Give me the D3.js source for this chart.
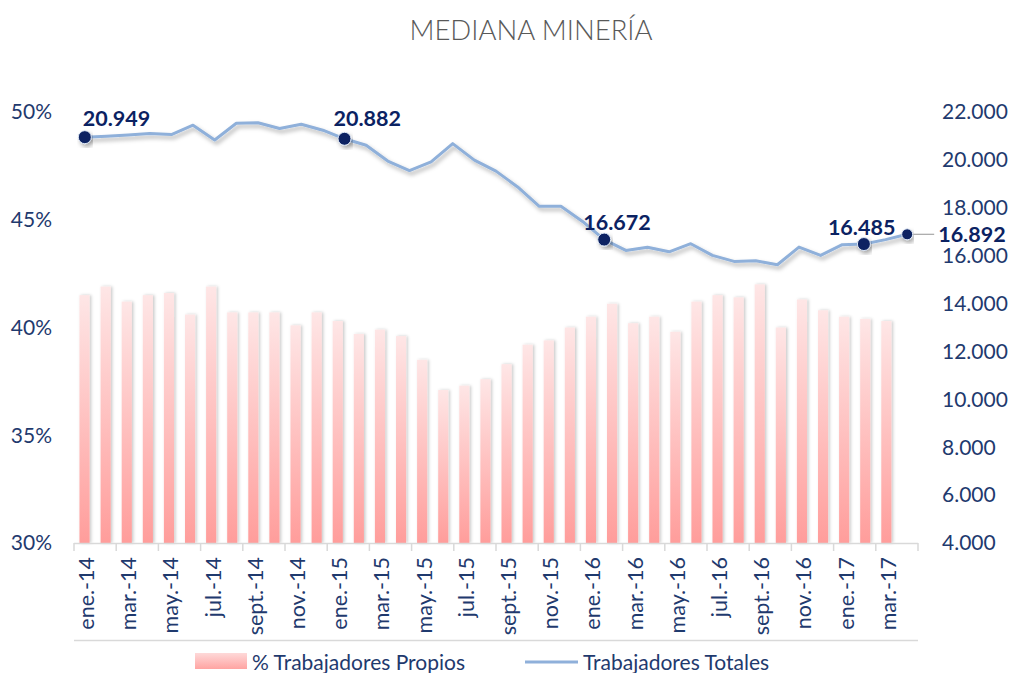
<!DOCTYPE html>
<html>
<head>
<meta charset="utf-8">
<script src="https://cdn.jsdelivr.net/npm/d3@7"></script>
<style>
  body { margin: 0; background: #fff; }
  svg { display: block; font-family: Lato, "Open Sans", sans-serif; }
</style>
</head>
<body>
<div id="chart"></div>
<script>
/*
** Data
*/
var months = [
    "ene.-14","feb.-14","mar.-14","abr.-14","may.-14","jun.-14","jul.-14","ago.-14","sept.-14","oct.-14","nov.-14","dic.-14",
    "ene.-15","feb.-15","mar.-15","abr.-15","may.-15","jun.-15","jul.-15","ago.-15","sept.-15","oct.-15","nov.-15","dic.-15",
    "ene.-16","feb.-16","mar.-16","abr.-16","may.-16","jun.-16","jul.-16","ago.-16","sept.-16","oct.-16","nov.-16","dic.-16",
    "ene.-17","feb.-17","mar.-17","abr.-17"
];

// % Trabajadores Propios (bars, left axis)
var propios = [
    41.5, 41.9, 41.2, 41.5, 41.6, 40.6, 41.9, 40.7, 40.7, 40.7, 40.1, 40.7,
    40.3, 39.7, 39.9, 39.6, 38.5, 37.1, 37.3, 37.6, 38.3, 39.2, 39.4, 40.0,
    40.5, 41.1, 40.2, 40.5, 39.8, 41.2, 41.5, 41.4, 42.0, 40.0, 41.3, 40.8,
    40.5, 40.4, 40.3
];

// Trabajadores Totales (line, right axis)
var totales = [
    20949, 20990, 21040, 21100, 21060, 21450, 20830, 21530, 21550, 21310, 21490, 21240,
    20882, 20610, 19950, 19550, 19920, 20680, 19990, 19530, 18870, 18060, 18060, 17430,
    16672, 16220, 16350, 16160, 16500, 16010, 15760, 15790, 15620, 16360, 16010, 16460,
    16485, 16670, 16892
];

var leftTicks = [30, 35, 40, 45, 50];
var rightTicks = [4000, 6000, 8000, 10000, 12000, 14000, 16000, 18000, 20000, 22000];
var labeledPoints = [0, 12, 24, 36, 38];

var seriesNames = ["% Trabajadores Propios", "Trabajadores Totales"];
var title = "MEDIANA MINERÍA";

/*
** Layout
*/
var width = 1010
  , height = 673
  , plotLeft = 74
  , plotRight = 918
  , plotTop = 112
  , plotBottom = 543
  , navy = "#1f3a6e"
  , dotColor = "#0b2262"
  , lineColor = "#8fb0da"
;

// label offsets (dx, dy) relative to each labelled dot
var labelOffsets = [[-2, -11], [-11, -13], [-21, -10], [-36, -9], [31, 8]];

var locale = d3.formatLocale({ decimal: ",", thousands: ".", grouping: [3], currency: ["$", ""] });
var fmtThousands = locale.format(",.0f");

var svg = d3.select("#chart").append("svg")
    .attr("width", width)
    .attr("height", height)
;

var defs = svg.append("defs");

var barGrad = defs.append("linearGradient")
    .attr("id", "barGrad")
    .attr("x1", 0).attr("y1", 0).attr("x2", 0).attr("y2", 1)
;
barGrad.append("stop").attr("offset", "0%").attr("stop-color", "#fee6e6");
barGrad.append("stop").attr("offset", "100%").attr("stop-color", "#ff9d9b");

var legGrad = defs.append("linearGradient")
    .attr("id", "legGrad")
    .attr("x1", 0).attr("y1", 0).attr("x2", 0).attr("y2", 1)
;
legGrad.append("stop").attr("offset", "0%").attr("stop-color", "#fed9d9");
legGrad.append("stop").attr("offset", "100%").attr("stop-color", "#ffa4a2");

var barShadow = defs.append("filter").attr("id", "barShadow")
    .attr("x", "-50%").attr("y", "-5%").attr("width", "200%").attr("height", "110%");
barShadow.append("feDropShadow")
    .attr("dx", 1.5).attr("dy", 0).attr("stdDeviation", 1.4)
    .attr("flood-color", "#000").attr("flood-opacity", 0.22);

var lineShadow = defs.append("filter").attr("id", "lineShadow")
    .attr("x", "-10%").attr("y", "-30%").attr("width", "120%").attr("height", "160%");
lineShadow.append("feDropShadow")
    .attr("dx", 2).attr("dy", 3).attr("stdDeviation", 2)
    .attr("flood-color", "#000").attr("flood-opacity", 0.3);

/*
** Scales
*/
var xBar = d3.scaleBand()
    .domain(months)
    .range([plotLeft, plotRight])
    .paddingInner(0.52)
    .paddingOuter(0.26)
;
var xLine = d3.scalePoint()
    .domain(d3.range(totales.length))
    .range([plotLeft, plotRight])
    .padding(0.5)
;
var yLeft = d3.scaleLinear().domain([30, 50]).range([plotBottom, plotTop]);
var yRight = d3.scaleLinear().domain([4000, 22000]).range([plotBottom, plotTop]);

/*
** Title
*/
svg.append("text")
    .attr("x", 531)
    .attr("y", 40)
    .attr("text-anchor", "middle")
    .attr("fill", "#595959")
    .style("font-size", "27.5px")
    .style("font-weight", 300)
    .text(title)
;

/*
** Bars
*/
svg.append("g")
    .attr("filter", "url(#barShadow)")
  .selectAll("rect")
    .data(propios)
  .enter().append("rect")
    .attr("x", function(d, i) { return xBar(months[i]); })
    .attr("width", xBar.bandwidth())
    .attr("y", function(d) { return yLeft(d); })
    .attr("height", function(d) { return yLeft(30) - yLeft(d); })
    .attr("fill", "url(#barGrad)")
;

/*
** Bottom axis: baseline, ticks every 2 months, rotated labels
*/
var step = xBar.step();
var axisG = svg.append("g");
axisG.append("line")
    .attr("x1", plotLeft).attr("x2", plotRight)
    .attr("y1", plotBottom + 0.5).attr("y2", plotBottom + 0.5)
    .attr("stroke", "#d9d9d9").attr("stroke-width", 1.5)
;
axisG.selectAll("line.tick")
    .data(d3.range(0, months.length + 1, 2))
  .enter().append("line")
    .attr("class", "tick")
    .attr("x1", function(i) { return plotLeft + i * step; })
    .attr("x2", function(i) { return plotLeft + i * step; })
    .attr("y1", plotBottom).attr("y2", plotBottom + 8)
    .attr("stroke", "#d9d9d9").attr("stroke-width", 1.5)
;
axisG.selectAll("text")
    .data(months.filter(function(m, i) { return i % 2 === 0; }))
  .enter().append("text")
    .attr("transform", function(m) {
        return "translate(" + (xBar(m) + xBar.bandwidth() / 2 + 2) + "," + 557 + ") rotate(-90)";
      })
    .attr("dy", "0.35em")
    .attr("text-anchor", "end")
    .attr("fill", navy)
    .style("font-size", "21.5px")
    .text(function(m) { return m; })
;
axisG.append("line")
    .attr("x1", plotLeft).attr("x2", plotRight)
    .attr("y1", 640.5).attr("y2", 640.5)
    .attr("stroke", "#d9d9d9").attr("stroke-width", 1.5)
;

/*
** Left and right value axes (labels only)
*/
svg.append("g").selectAll("text")
    .data(leftTicks)
  .enter().append("text")
    .attr("x", 52)
    .attr("y", function(d) { return yLeft(d); })
    .attr("dy", "0.35em")
    .attr("text-anchor", "end")
    .attr("fill", navy)
    .style("font-size", "21px")
    .text(function(d) { return d + "%"; })
;
svg.append("g").selectAll("text")
    .data(rightTicks)
  .enter().append("text")
    .attr("x", 942)
    .attr("y", function(d) { return yRight(d); })
    .attr("dy", "0.35em")
    .attr("fill", navy)
    .style("font-size", "21px")
    .text(function(d) { return fmtThousands(d); })
;

/*
** Line
*/
var line = d3.line()
    .x(function(d, i) { return xLine(i); })
    .y(function(d) { return yRight(d); })
;
svg.append("path")
    .datum(totales)
    .attr("d", line)
    .attr("fill", "none")
    .attr("stroke", lineColor)
    .attr("stroke-width", 3)
    .attr("stroke-linejoin", "round")
    .attr("filter", "url(#lineShadow)")
;

/*
** Labelled points
*/
var last = labeledPoints[labeledPoints.length - 1];
svg.append("line")
    .attr("x1", xLine(last) + 6).attr("x2", xLine(last) + 27)
    .attr("y1", yRight(totales[last])).attr("y2", yRight(totales[last]))
    .attr("stroke", "#a6a6a6").attr("stroke-width", 1.2)
;

var pts = svg.append("g").selectAll("g")
    .data(labeledPoints)
  .enter().append("g")
;
pts.append("circle")
    .attr("cx", function(i) { return xLine(i); })
    .attr("cy", function(i) { return yRight(totales[i]); })
    .attr("r", function(i) { return i === last ? 5.5 : 6.5; })
    .attr("fill", dotColor)
    .attr("stroke", "#dfe8f5")
    .attr("stroke-width", 1)
    .attr("filter", "url(#lineShadow)")
;
pts.append("text")
    .attr("x", function(i, k) { return xLine(i) + labelOffsets[k][0]; })
    .attr("y", function(i, k) { return yRight(totales[i]) + labelOffsets[k][1]; })
    .attr("fill", dotColor)
    .style("font-size", "21.5px")
    .style("font-weight", 700)
    .text(function(i) { return fmtThousands(totales[i]); })
;

/*
** Legend
*/
var legend = svg.append("g");
legend.append("rect")
    .attr("x", 195).attr("y", 653)
    .attr("width", 52).attr("height", 16)
    .attr("fill", "url(#legGrad)")
;
legend.append("text")
    .attr("x", 252).attr("y", 670)
    .attr("fill", navy)
    .style("font-size", "21px")
    .text(seriesNames[0])
;
legend.append("line")
    .attr("x1", 525).attr("x2", 578)
    .attr("y1", 662).attr("y2", 662)
    .attr("stroke", lineColor)
    .attr("stroke-width", 3)
;
legend.append("text")
    .attr("x", 583).attr("y", 670)
    .attr("fill", navy)
    .style("font-size", "21px")
    .text(seriesNames[1])
;
</script>
</body>
</html>
